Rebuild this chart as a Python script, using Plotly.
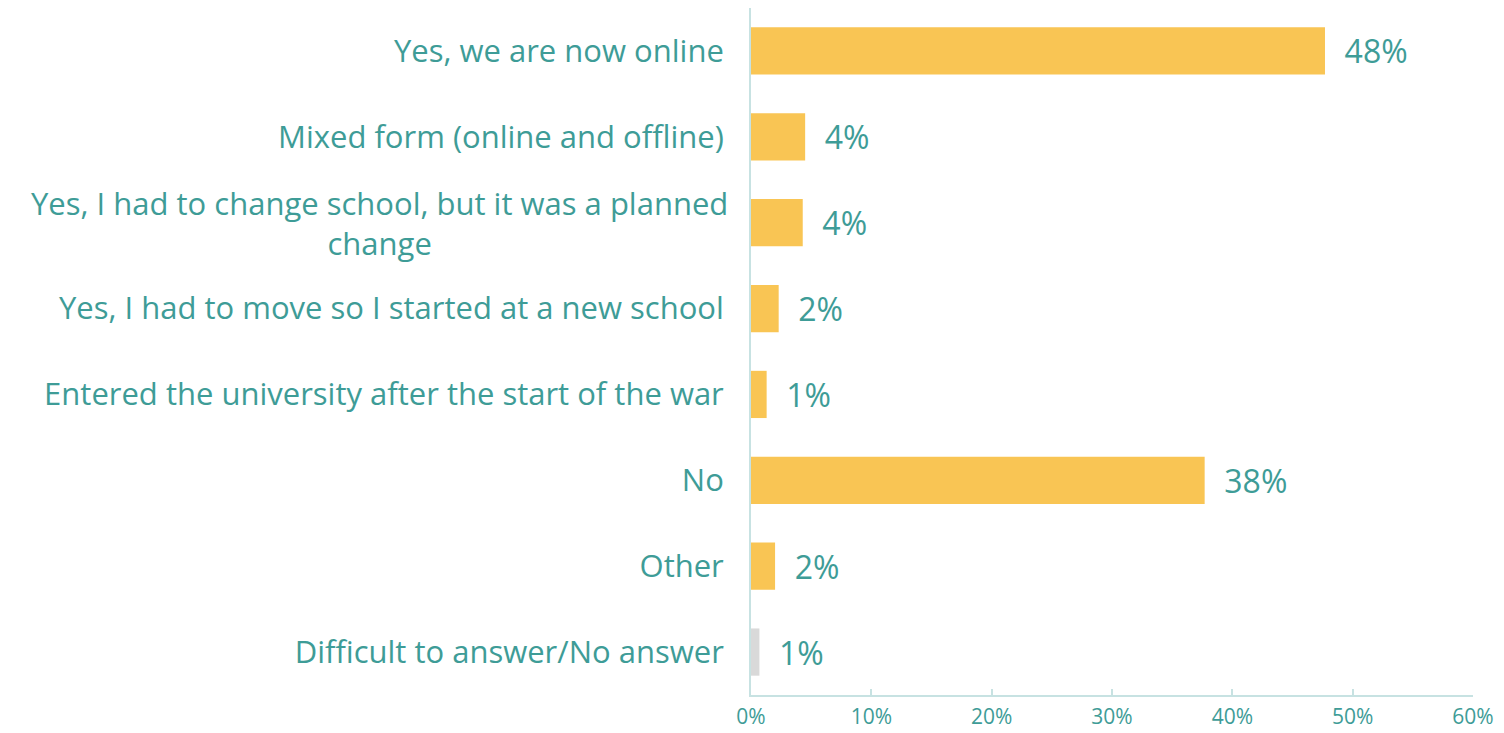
import plotly.graph_objects as go

categories = [
    "Yes, we are now online",
    "Mixed form (online and offline)",
    "Yes, I had to change school, but it was a planned<br>change",
    "Yes, I had to move so I started at a new school",
    "Entered the university after the start of the war",
    "No",
    "Other",
    "Difficult to answer/No answer",
]
values = [47.7, 4.5, 4.3, 2.3, 1.3, 37.7, 2.0, 0.7]
labels = ["48%", "4%", "4%", "2%", "1%", "38%", "2%", "1%"]
colors = ["#F9C554"] * 7 + ["#D9D9D9"]
x_ticks = [0, 10, 20, 30, 40, 50, 60]
x_ticktext = ["0%", "10%", "20%", "30%", "40%", "50%", "60%"]

TEAL = "#3E9C97"
FONT = "Open Sans"

wrapped_idx = 2
ticktext = [("" if i == wrapped_idx else c) for i, c in enumerate(categories)]

fig = go.Figure(go.Bar(
    y=categories,
    x=values,
    orientation="h",
    marker=dict(color=colors, line=dict(width=0)),
    width=0.55,
    text=["  " + t for t in labels],
    textposition="outside",
    textfont=dict(family=FONT, size=32, color=TEAL),
    cliponaxis=False,
    hoverinfo="skip",
))

fig.add_annotation(
    x=0, xref="paper", xanchor="right", xshift=-21,
    y=categories[wrapped_idx], yref="y", yanchor="middle",
    text=categories[wrapped_idx], showarrow=False, align="center",
    font=dict(family=FONT, size=31, color=TEAL),
)

fig.update_layout(
    width=1504, height=733,
    margin=dict(l=743, r=39, t=0, b=46),
    paper_bgcolor="white", plot_bgcolor="white",
    showlegend=False,
    font=dict(family=FONT, color=TEAL),
)
fig.update_xaxes(
    range=[0, 60], tickvals=x_ticks, ticktext=x_ticktext,
    showgrid=False, zeroline=False,
    showline=True, linecolor="#C7E2E2", linewidth=2,
    ticks="inside", ticklen=6, tickcolor="#C7E2E2", tickwidth=2,
    ticklabelstandoff=2,
    tickfont=dict(family=FONT, size=21, color=TEAL),
)
fig.update_yaxes(
    categoryorder="array", categoryarray=categories[::-1],
    tickvals=categories, ticktext=ticktext,
    showgrid=False, zeroline=False,
    showline=True, linecolor="#C7E2E2", linewidth=2,
    ticks="", ticklabelstandoff=19,
    tickfont=dict(family=FONT, size=31, color=TEAL),
)

fig.write_html("out.html")
